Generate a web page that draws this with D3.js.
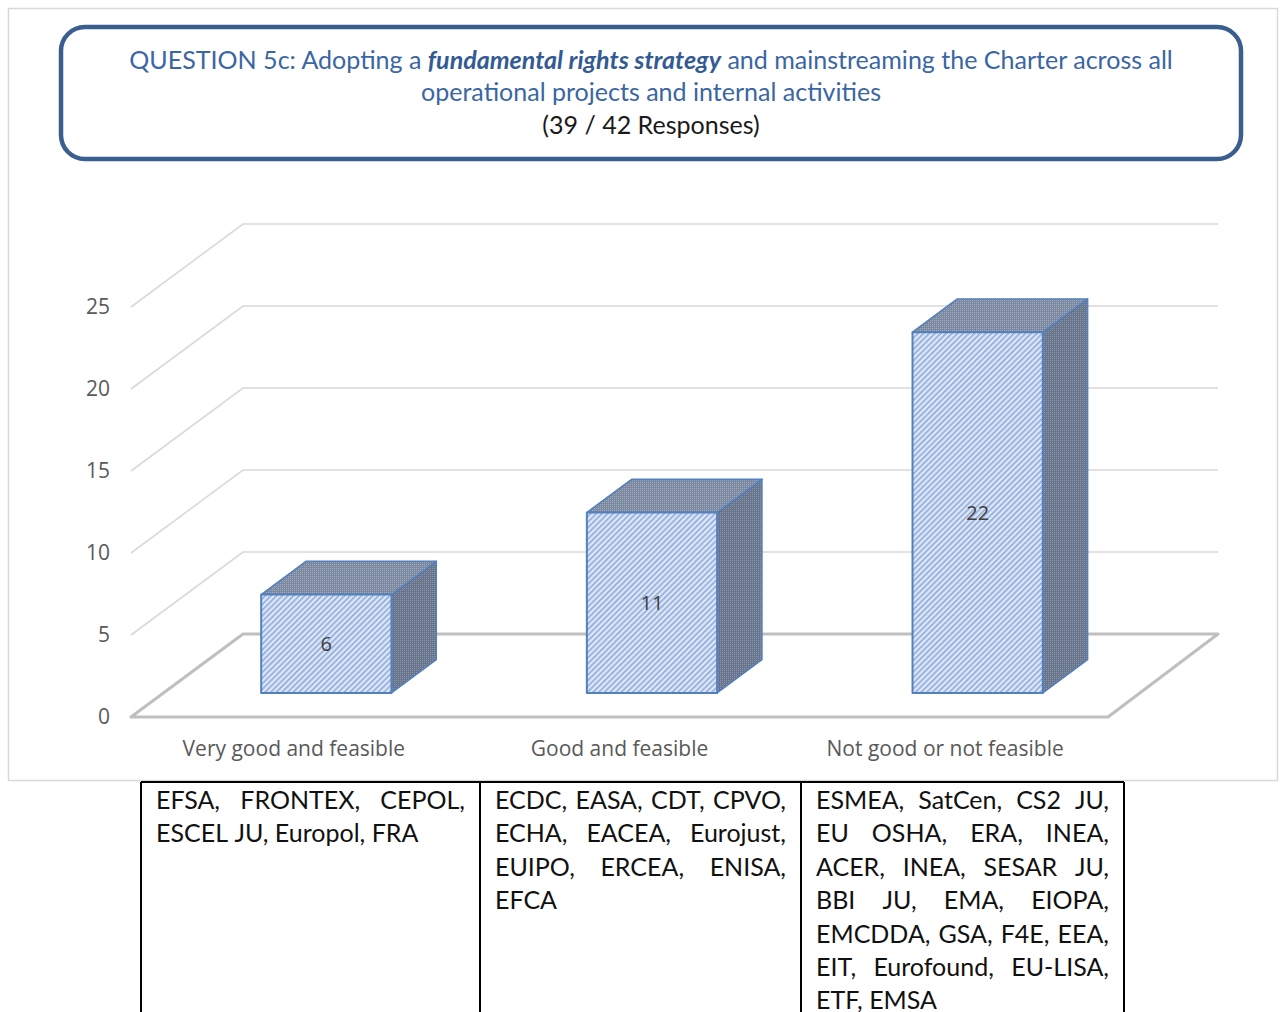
<!DOCTYPE html>
<html>
<head>
<meta charset="utf-8">
<script src="https://cdn.jsdelivr.net/npm/d3@7"></script>
<style>
  html, body { margin: 0; padding: 0; background: #fff; }
  svg { display: block; }
</style>
</head>
<body>
<svg id="chart" width="1283" height="1012"></svg>
<script>
// ---- data ----
const categories = ["Very good and feasible", "Good and feasible", "Not good or not feasible"];
const values = [6, 11, 22];
const yTicks = [0, 5, 10, 15, 20, 25];
const titleLine1Plain = "QUESTION 5c: Adopting a ";
const titleLine1Bold = "fundamental rights strategy";
const titleLine1Rest = " and mainstreaming the Charter across all";
const titleLine2 = "operational projects and internal activities";
const titleLine3 = "(39 / 42 Responses)";
const agenciesVeryGood = ["EFSA, FRONTEX, CEPOL,", "ESCEL JU, Europol, FRA"];
const agenciesGood = ["ECDC, EASA, CDT, CPVO,", "ECHA, EACEA, Eurojust,", "EUIPO, ERCEA, ENISA,", "EFCA"];
const agenciesNotGood = ["ESMEA, SatCen, CS2 JU,", "EU OSHA, ERA, INEA,", "ACER, INEA, SESAR JU,", "BBI JU, EMA, EIOPA,", "EMCDDA, GSA, F4E, EEA,", "EIT, Eurofound, EU-LISA,", "ETF, EMSA"];
const agencyColumns = [agenciesVeryGood, agenciesGood, agenciesNotGood];

// ---- layout ----
const FONT = "'Open Sans', Lato, sans-serif";
const TFONT = "Lato, 'Open Sans', sans-serif";
const svg = d3.select("#chart");
const defs = svg.append("defs");

// patterns
const pf = defs.append("pattern").attr("id", "frontPat").attr("patternUnits", "userSpaceOnUse")
  .attr("width", 4).attr("height", 4).attr("patternTransform", "rotate(45)");
pf.append("rect").attr("width", 4).attr("height", 4).attr("fill", "#dde7f6");
pf.append("rect").attr("width", 1.6).attr("height", 4).attr("fill", "#8eaadb");

const pt = defs.append("pattern").attr("id", "topPat").attr("patternUnits", "userSpaceOnUse")
  .attr("width", 2).attr("height", 2);
pt.append("rect").attr("width", 2).attr("height", 2).attr("fill", "#7a88a0");
pt.append("rect").attr("width", 1).attr("height", 1).attr("fill", "#a3adbf");

const ps = defs.append("pattern").attr("id", "sidePat").attr("patternUnits", "userSpaceOnUse")
  .attr("width", 2).attr("height", 2);
ps.append("rect").attr("width", 2).attr("height", 2).attr("fill", "#67748b");
ps.append("rect").attr("width", 1).attr("height", 1).attr("fill", "#8b96aa");

// outer chart border
svg.append("rect").attr("x", 8.5).attr("y", 8.5).attr("width", 1269).attr("height", 772)
  .attr("fill", "#fff").attr("stroke", "#d9d9d9").attr("stroke-width", 1.5);

// title box
svg.append("rect").attr("x", 61).attr("y", 27).attr("width", 1180).attr("height", 132)
  .attr("rx", 24).attr("ry", 24).attr("fill", "#fff")
  .attr("stroke", "#3a5f8e").attr("stroke-width", 4.5);

const t1 = svg.append("text").attr("x", 651).attr("y", 69).attr("text-anchor", "middle")
  .attr("font-family", TFONT).attr("font-size", 23).attr("fill", "#3a66a3");
t1.append("tspan").text(titleLine1Plain);
t1.append("tspan").attr("font-weight", "bold").attr("font-style", "italic").attr("fill", "#335b93").text(titleLine1Bold);
t1.append("tspan").text(titleLine1Rest);
// fit title font to the reference line width
const titleSize = 23 * 1044 / t1.node().getComputedTextLength();
t1.attr("font-size", titleSize);
svg.append("text").attr("x", 651).attr("y", 101).attr("text-anchor", "middle")
  .attr("font-family", TFONT).attr("font-size", titleSize).attr("fill", "#3a66a3").text(titleLine2);
svg.append("text").attr("x", 651).attr("y", 134).attr("text-anchor", "middle")
  .attr("font-family", TFONT).attr("font-size", titleSize).attr("fill", "#1a1a1a").text(titleLine3);

// scales
const y = d3.scaleLinear().domain([0, 25]).range([717, 307]);
const x = d3.scaleBand().domain(categories).range([131, 1108]).paddingInner(0.6).paddingOuter(0.3);
const DX = 112, DY = 83;       // full floor depth offset
const D0 = 0.29, D1 = 0.69;    // bar front/back depth fractions
const P = (px, v, d) => [px + d * DX, y(v) - d * DY];
const line = d3.line();

// gridlines (left wall + back wall)
const grid = svg.append("g");
const x0 = x.range()[0], x1 = x.range()[1];
yTicks.filter(v => v > 0).forEach(v => {
  grid.append("path")
    .attr("d", line([P(x0, v, 0), P(x0, v, 1), P(x1 - 2, v, 1)]))
    .attr("fill", "none").attr("stroke", "#d9d9d9").attr("stroke-width", 1.6);
});
// floor
grid.append("path")
  .attr("d", line([P(x0, 0, 0), P(x1, 0, 0), P(x1 - 2, 0, 1), P(x0, 0, 1)]) + "Z")
  .attr("fill", "none").attr("stroke", "#bfbfbf").attr("stroke-width", 3).attr("stroke-linejoin", "round");

// y labels
svg.append("g").selectAll("text").data(yTicks).join("text")
  .attr("x", 110).attr("y", d => y(d)).attr("dy", "0.35em").attr("text-anchor", "end")
  .attr("font-family", FONT).attr("font-size", 21).attr("fill", "#595959").text(d => d);

// category labels
svg.append("g").selectAll("text").data(categories).join("text")
  .attr("x", d => x(d) + x.bandwidth() / 2).attr("y", 756).attr("text-anchor", "middle")
  .attr("font-family", FONT).attr("font-size", 21).attr("fill", "#595959").text(d => d);

// bars
const bars = svg.append("g");
categories.forEach((c, i) => {
  const v = values[i];
  const xl = x(c), xr = x(c) + x.bandwidth();
  const g = bars.append("g");
  const stroke = "#5480bc";
  g.append("path").attr("d", line([P(xr, 0, D0), P(xr, 0, D1), P(xr, v, D1), P(xr, v, D0)]) + "Z")
    .attr("fill", "url(#sidePat)").attr("stroke", stroke).attr("stroke-width", 1.6).attr("stroke-linejoin", "round");
  g.append("path").attr("d", line([P(xl, v, D0), P(xl, v, D1), P(xr, v, D1), P(xr, v, D0)]) + "Z")
    .attr("fill", "url(#topPat)").attr("stroke", stroke).attr("stroke-width", 1.6).attr("stroke-linejoin", "round");
  g.append("path").attr("d", line([P(xl, 0, D0), P(xr, 0, D0), P(xr, v, D0), P(xl, v, D0)]) + "Z")
    .attr("fill", "url(#frontPat)").attr("stroke", stroke).attr("stroke-width", 2).attr("stroke-linejoin", "round");
  const cx = (xl + xr) / 2 + D0 * DX;
  const cy = (y(0) + y(v)) / 2 - D0 * DY;
  g.append("text").attr("x", cx).attr("y", cy).attr("dy", "0.35em").attr("text-anchor", "middle")
    .attr("font-family", FONT).attr("font-size", 20).attr("fill", "#404040").text(v);
});

// table below
const colEdges = [141, 480, 801, 1124];
const tableTop = 782, tableBottom = 1013;
const tbl = svg.append("g");
tbl.append("line").attr("x1", colEdges[0]).attr("x2", colEdges[3]).attr("y1", tableTop).attr("y2", tableTop)
  .attr("stroke", "#000").attr("stroke-width", 2);
colEdges.forEach(cx => {
  tbl.append("line").attr("x1", cx).attr("x2", cx).attr("y1", tableTop).attr("y2", tableBottom)
    .attr("stroke", "#000").attr("stroke-width", 2);
});
const PAD = 15, LH = 33.4, FIRST = 809, TSIZE = 25;
const spaceW = (() => { const t = tbl.append("text").attr("font-family", TFONT).attr("font-size", TSIZE).text("a a"); const a = t.node().getComputedTextLength(); t.text("aa"); const b = t.node().getComputedTextLength(); t.remove(); return a - b; })();
agencyColumns.forEach((lines, ci) => {
  const left = colEdges[ci] + PAD, right = colEdges[ci + 1] - PAD;
  lines.forEach((ln, li) => {
    const words = ln.split(" ");
    const yy = FIRST + li * LH;
    const texts = words.map(w => tbl.append("text").attr("y", yy)
      .attr("font-family", TFONT).attr("font-size", TSIZE).attr("fill", "#111").text(w));
    const widths = texts.map(t => t.node().getComputedTextLength());
    const last = li === lines.length - 1;
    const gap = (!last && words.length > 1) ? (right - left - d3.sum(widths)) / (words.length - 1) : spaceW;
    let cur = left;
    texts.forEach((t, k) => { t.attr("x", cur); cur += widths[k] + gap; });
  });
});
</script>
</body>
</html>
